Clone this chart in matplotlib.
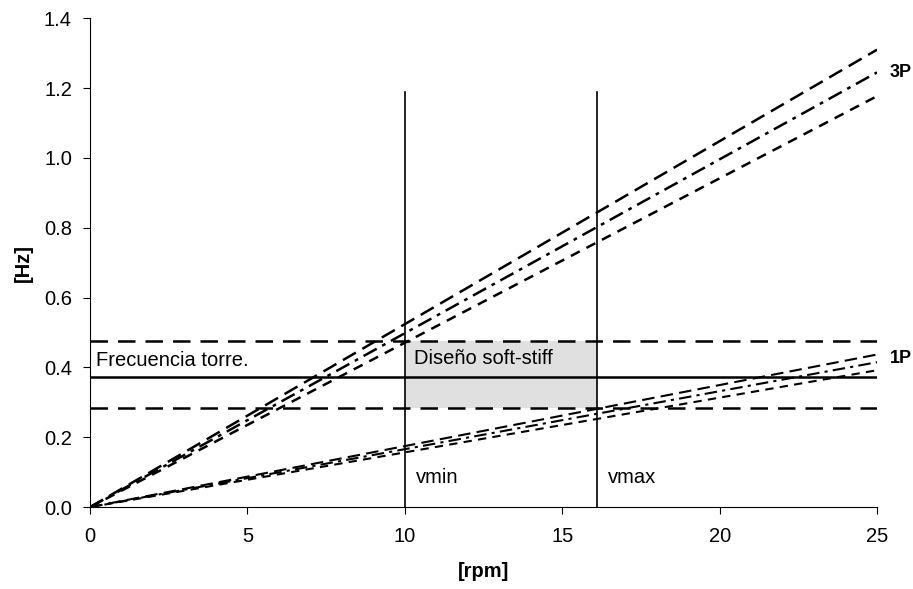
import numpy as np
import matplotlib.pyplot as plt
import matplotlib.patches as patches

plt.rcParams['font.family'] = ['Liberation Sans', 'DejaVu Sans']

# Datos
rpm = [0, 25]
f3p_final = [1.31, 1.245, 1.177]      # 3P a 25 rpm
f1p_final = [0.437, 0.415, 0.392]     # 1P a 25 rpm
estilos = [(0, (6, 3)), (0, (6, 2.5, 1.5, 2.5)), (0, (4, 3))]

f_torre = 0.372
f_torre_sup = 0.475
f_torre_inf = 0.283
vmin = 10.0
vmax = 16.1
v_altura = 1.188

fs = 14.5

fig = plt.figure(figsize=(9.13, 5.89), dpi=100)
ax = fig.add_axes([0.0986, 0.139, 0.862, 0.830])

# Zona soft-stiff
ax.add_patch(patches.Rectangle((vmin, f_torre_inf), vmax - vmin, f_torre_sup - f_torre_inf,
                               facecolor='#e0e0e0', edgecolor='none', zorder=0))

# Frecuencias 3P y 1P
for f3, f1, ls in zip(f3p_final, f1p_final, estilos):
    ax.plot(rpm, [0, f3], color='black', lw=1.8, linestyle=ls)
    ax.plot(rpm, [0, f1], color='black', lw=1.5, linestyle=ls)

# Frecuencia torre
ax.axhline(f_torre, color='black', lw=1.8)
ax.axhline(f_torre_sup, color='black', lw=1.8, linestyle=(0, (7, 4)))
ax.axhline(f_torre_inf, color='black', lw=1.8, linestyle=(0, (7, 4)))

# vmin / vmax
ax.plot([vmin, vmin], [0, v_altura], color='black', lw=1.2)
ax.plot([vmax, vmax], [0, v_altura], color='black', lw=1.2)

ax.text(0.2, 0.42, 'Frecuencia torre.', fontsize=fs, va='center')
ax.text(vmin + 0.3, 0.425, 'Diseño soft-stiff', fontsize=fs, va='center')
ax.text(vmin + 0.35, 0.086, 'vmin', fontsize=fs, va='center')
ax.text(vmax + 0.35, 0.086, 'vmax', fontsize=fs, va='center')
ax.text(25.4, 1.245, '3P', fontsize=13, fontweight='bold', va='center')
ax.text(25.4, 0.427, '1P', fontsize=13, fontweight='bold', va='center')

ax.set_xlim(0, 25)
ax.set_ylim(0, 1.4)
ax.set_xticks([0, 5, 10, 15, 20, 25])
ax.set_yticks(np.arange(0, 1.41, 0.2))
ax.yaxis.set_major_formatter(plt.FormatStrFormatter('%.1f'))
ax.tick_params(labelsize=fs, direction='out', length=5)
ax.tick_params(axis='x', pad=9)
ax.tick_params(axis='y', pad=8)
ax.spines['top'].set_visible(False)
ax.spines['right'].set_visible(False)
ax.set_xlabel('[rpm]', fontsize=fs, fontweight='bold', labelpad=12)
ax.set_ylabel('[Hz]', fontsize=fs, fontweight='bold', labelpad=8)

fig.savefig('out.png', dpi=100)
